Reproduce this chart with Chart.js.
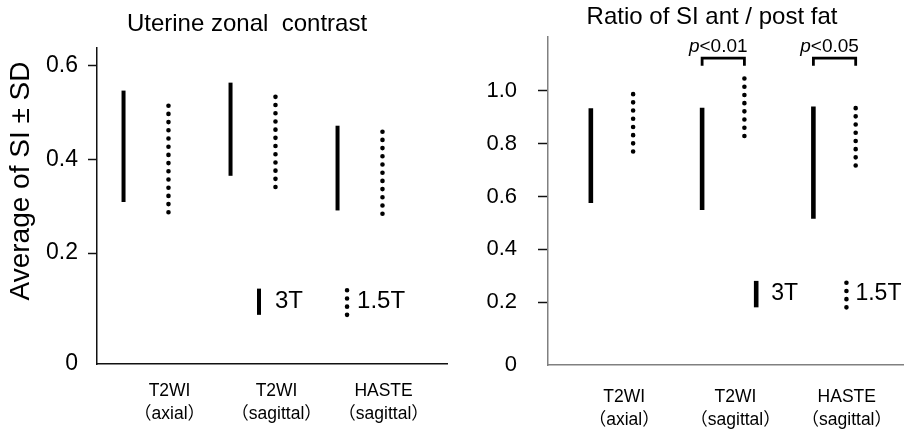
<!DOCTYPE html>
<html lang="en">
<head>
<meta charset="UTF-8">
<title>Uterine zonal contrast / Ratio of SI ant / post fat</title>
<script src="https://cdn.jsdelivr.net/npm/chart.js@4"></script>
<style>
  body { margin: 0; background: #fff; }
  #wrap { position: relative; width: 913px; height: 431px; }
  canvas { position: absolute; top: 0; }
  #left { left: 0; }
  #right { left: 460px; }
</style>
</head>
<body>
<div id="wrap">
  <canvas id="left" width="460" height="431"></canvas>
  <canvas id="right" width="453" height="431"></canvas>
</div>
<script>
const categories = [['T2WI', '（axial）'], ['T2WI', '（sagittal）'], ['HASTE', '（sagittal）']];
const seriesNames = ['3T', '1.5T'];

// Uterine zonal contrast: average of SI ± SD (low end / high end)
const zonal3TLow   = [0.309, 0.365, 0.291];
const zonal3THigh  = [0.547, 0.564, 0.472];
const zonal15TLow  = [0.287, 0.341, 0.284];
const zonal15THigh = [0.529, 0.549, 0.476];
const zonalTicks = [0, 0.2, 0.4, 0.6];
const zonalTickLabels = ['0', '0.2', '0.4', '0.6'];

// Ratio of SI ant / post fat
const fat3TLow   = [0.575, 0.549, 0.516];
const fat3THigh  = [0.934, 0.936, 0.940];
const fat15TLow  = [0.770, 0.829, 0.717];
const fat15THigh = [0.991, 1.047, 0.965];
const fatTicks = [0, 0.2, 0.4, 0.6, 0.8, 1.0];
const fatTickLabels = ['0', '0.2', '0.4', '0.6', '0.8', '1.0'];
const fatSigCats = [1, 2];
const fatSigLabels = ['<0.01', '<0.05'];

const FONT = "'Liberation Sans', Arial, 'Noto Sans CJK JP', sans-serif";
Chart.defaults.font.family = FONT;
Chart.defaults.color = '#000';

// titles, legend and p-value text
const decor = {
  id: 'decor',
  afterDraw(chart, args, o) {
    const ctx = chart.ctx, x = chart.scales.x, y = chart.scales.y;
    ctx.save();
    ctx.fillStyle = '#000';
    ctx.strokeStyle = '#000';
    ctx.textBaseline = 'middle';
    ctx.textAlign = 'center';
    ctx.font = '24px ' + FONT;
    ctx.fillText(o.title, o.titleX, o.titleY);

    if (o.yTitle) {
      ctx.save();
      ctx.translate(o.yTitleX, o.yTitleY);
      ctx.rotate(-Math.PI / 2);
      ctx.font = '28px ' + FONT;
      ctx.fillText(o.yTitle, 0, 0);
      ctx.restore();
    }

    // legend
    const lg = o.legend;
    const y0 = y.getPixelForValue(lg.low), y1 = y.getPixelForValue(lg.high);
    const sx = x.getPixelForValue(lg.solidX), dx = x.getPixelForValue(lg.dotX);
    ctx.lineWidth = o.barWidth;
    ctx.lineCap = 'butt';
    ctx.beginPath(); ctx.moveTo(sx, y0); ctx.lineTo(sx, y1); ctx.stroke();
    ctx.lineWidth = 4.6;
    ctx.lineCap = 'round';
    ctx.setLineDash([0, 8.2]);
    ctx.beginPath(); ctx.moveTo(dx, y0); ctx.lineTo(dx, y1); ctx.stroke();
    ctx.setLineDash([]);
    ctx.font = lg.size + 'px ' + FONT;
    ctx.textAlign = 'left';
    const ty = (y0 + y1) / 2;
    ctx.fillText(seriesNames[0], sx + lg.gap3, ty);
    ctx.fillText(seriesNames[1], dx + lg.gap15, ty);

    // significance labels above brackets
    (o.sigCats || []).forEach((c, i) => {
      const cx = x.getPixelForValue(c) - 5;
      const top = y.getPixelForValue(o.sigTop) - 6;
      ctx.textBaseline = 'alphabetic';
      ctx.font = 'italic 19px ' + FONT;
      const wp = ctx.measureText('p').width;
      ctx.font = '19px ' + FONT;
      const wr = ctx.measureText(o.sigLabels[i]).width;
      const left = cx - (wp + wr) / 2;
      ctx.font = 'italic 19px ' + FONT;
      ctx.fillText('p', left, top);
      ctx.font = '19px ' + FONT;
      ctx.fillText(o.sigLabels[i], left + wp, top);
    });
    ctx.restore();
  }
};

function makePanel(id, p) {
  const H = 431;
  const solid = {showLine: true, borderColor: '#000', borderWidth: p.barWidth, pointRadius: 0, borderCapStyle: 'butt'};
  const dotted = {showLine: true, borderColor: '#000', borderWidth: 4.6, pointRadius: 0, borderCapStyle: 'round', borderDash: [0, 8.2]};
  const ranges = (lo, hi, dx, style) => lo.map((v, i) => Object.assign({
    data: [{x: i + dx, y: v}, {x: i + dx, y: hi[i]}]
  }, style));
  const datasets = [
    ...ranges(p.lo3, p.hi3, -p.shift, solid),
    ...ranges(p.lo15, p.hi15, p.shift, dotted)
  ];
  (p.sigCats || []).forEach(c => datasets.push({
    showLine: true, borderColor: '#000', borderWidth: 2.8, pointRadius: 0,
    borderCapStyle: 'butt', borderJoinStyle: 'miter',
    data: [{x: c - p.shift, y: p.sigLow}, {x: c - p.shift, y: p.sigTop},
           {x: c + p.shift, y: p.sigTop}, {x: c + p.shift, y: p.sigLow}]
  }));

  return new Chart(document.getElementById(id), {
    type: 'scatter',
    data: {datasets},
    plugins: [decor],
    options: {
      responsive: false,
      animation: false,
      events: [],
      layout: {padding: {left: 0, right: p.padRight, top: p.areaTop, bottom: 0}},
      plugins: {
        legend: {display: false},
        tooltip: {enabled: false},
        decor: p.decor
      },
      scales: {
        x: {
          type: 'linear',
          min: p.xMin, max: p.xMax,
          afterBuildTicks: s => { s.ticks = categories.map((c, i) => ({value: i + p.labelShift})); },
          afterFit: s => { s.height = H - p.areaBottom; },
          ticks: {
            callback: (v, i) => categories[i],
            autoSkip: false, maxRotation: 0,
            font: {size: 17.5, lineHeight: 1.32},
            padding: p.xPad
          },
          grid: {drawOnChartArea: false, drawTicks: false},
          border: {color: p.axisColor, width: 1.5}
        },
        y: {
          min: p.yMin, max: p.yMax,
          afterBuildTicks: s => { s.ticks = p.ticks.map(v => ({value: v === 0 ? p.yMin : v})); },
          afterFit: s => { s.width = p.areaLeft; },
          ticks: {
            callback: (v, i) => p.tickLabels[i],
            font: {size: p.tickSize},
            padding: p.yPad
          },
          grid: {
            drawOnChartArea: false, drawTicks: true, tickLength: p.tickLen, tickWidth: 1.5,
            tickColor: c => (c.tick && c.tick.value === p.yMin) ? 'rgba(0,0,0,0)' : '#111'
          },
          border: {color: p.axisColor, width: 1.5}
        }
      }
    }
  });
}

makePanel('left', {
  lo3: zonal3TLow, hi3: zonal3THigh, lo15: zonal15TLow, hi15: zonal15THigh,
  ticks: zonalTicks, tickLabels: zonalTickLabels, tickSize: 23,
  yMin: -0.037, yMax: 0.638, xMin: -0.458, xMax: 2.813,
  shift: 0.21, labelShift: 0.22, barWidth: 4,
  areaLeft: 97, areaTop: 48, areaBottom: 364, padRight: 13,
  xPad: 16, yPad: 10, tickLen: 9, axisColor: '#111',
  decor: {
    title: 'Uterine zonal  contrast', titleX: 247, titleY: 24,
    yTitle: 'Average of SI ± SD', yTitleX: 21, yTitleY: 181, barWidth: 4,
    legend: {solidX: 1.056, dotX: 1.879, low: 0.068, high: 0.124, gap3: 16, gap15: 10, size: 24}
  }
});

makePanel('right', {
  lo3: fat3TLow, hi3: fat3THigh, lo15: fat15TLow, hi15: fat15THigh,
  ticks: fatTicks, tickLabels: fatTickLabels, tickSize: 22,
  yMin: -0.037, yMax: 1.203, xMin: -0.575, xMax: 2.621,
  shift: 0.19, labelShift: 0.11, barWidth: 4.6,
  sigCats: fatSigCats, sigLow: 1.094, sigTop: 1.123,
  areaLeft: 88, areaTop: 37, areaBottom: 365, padRight: 0,
  xPad: 21, yPad: 21, tickLen: 10, axisColor: '#808080',
  decor: {
    title: 'Ratio of SI ant / post fat', titleX: 252, titleY: 17, barWidth: 4.6,
    sigCats: fatSigCats, sigLabels: fatSigLabels, sigTop: 1.123,
    legend: {solidX: 1.296, dotX: 2.107, low: 0.181, high: 0.281, gap3: 15, gap15: 9, size: 23}
  }
});
</script>
</body>
</html>
